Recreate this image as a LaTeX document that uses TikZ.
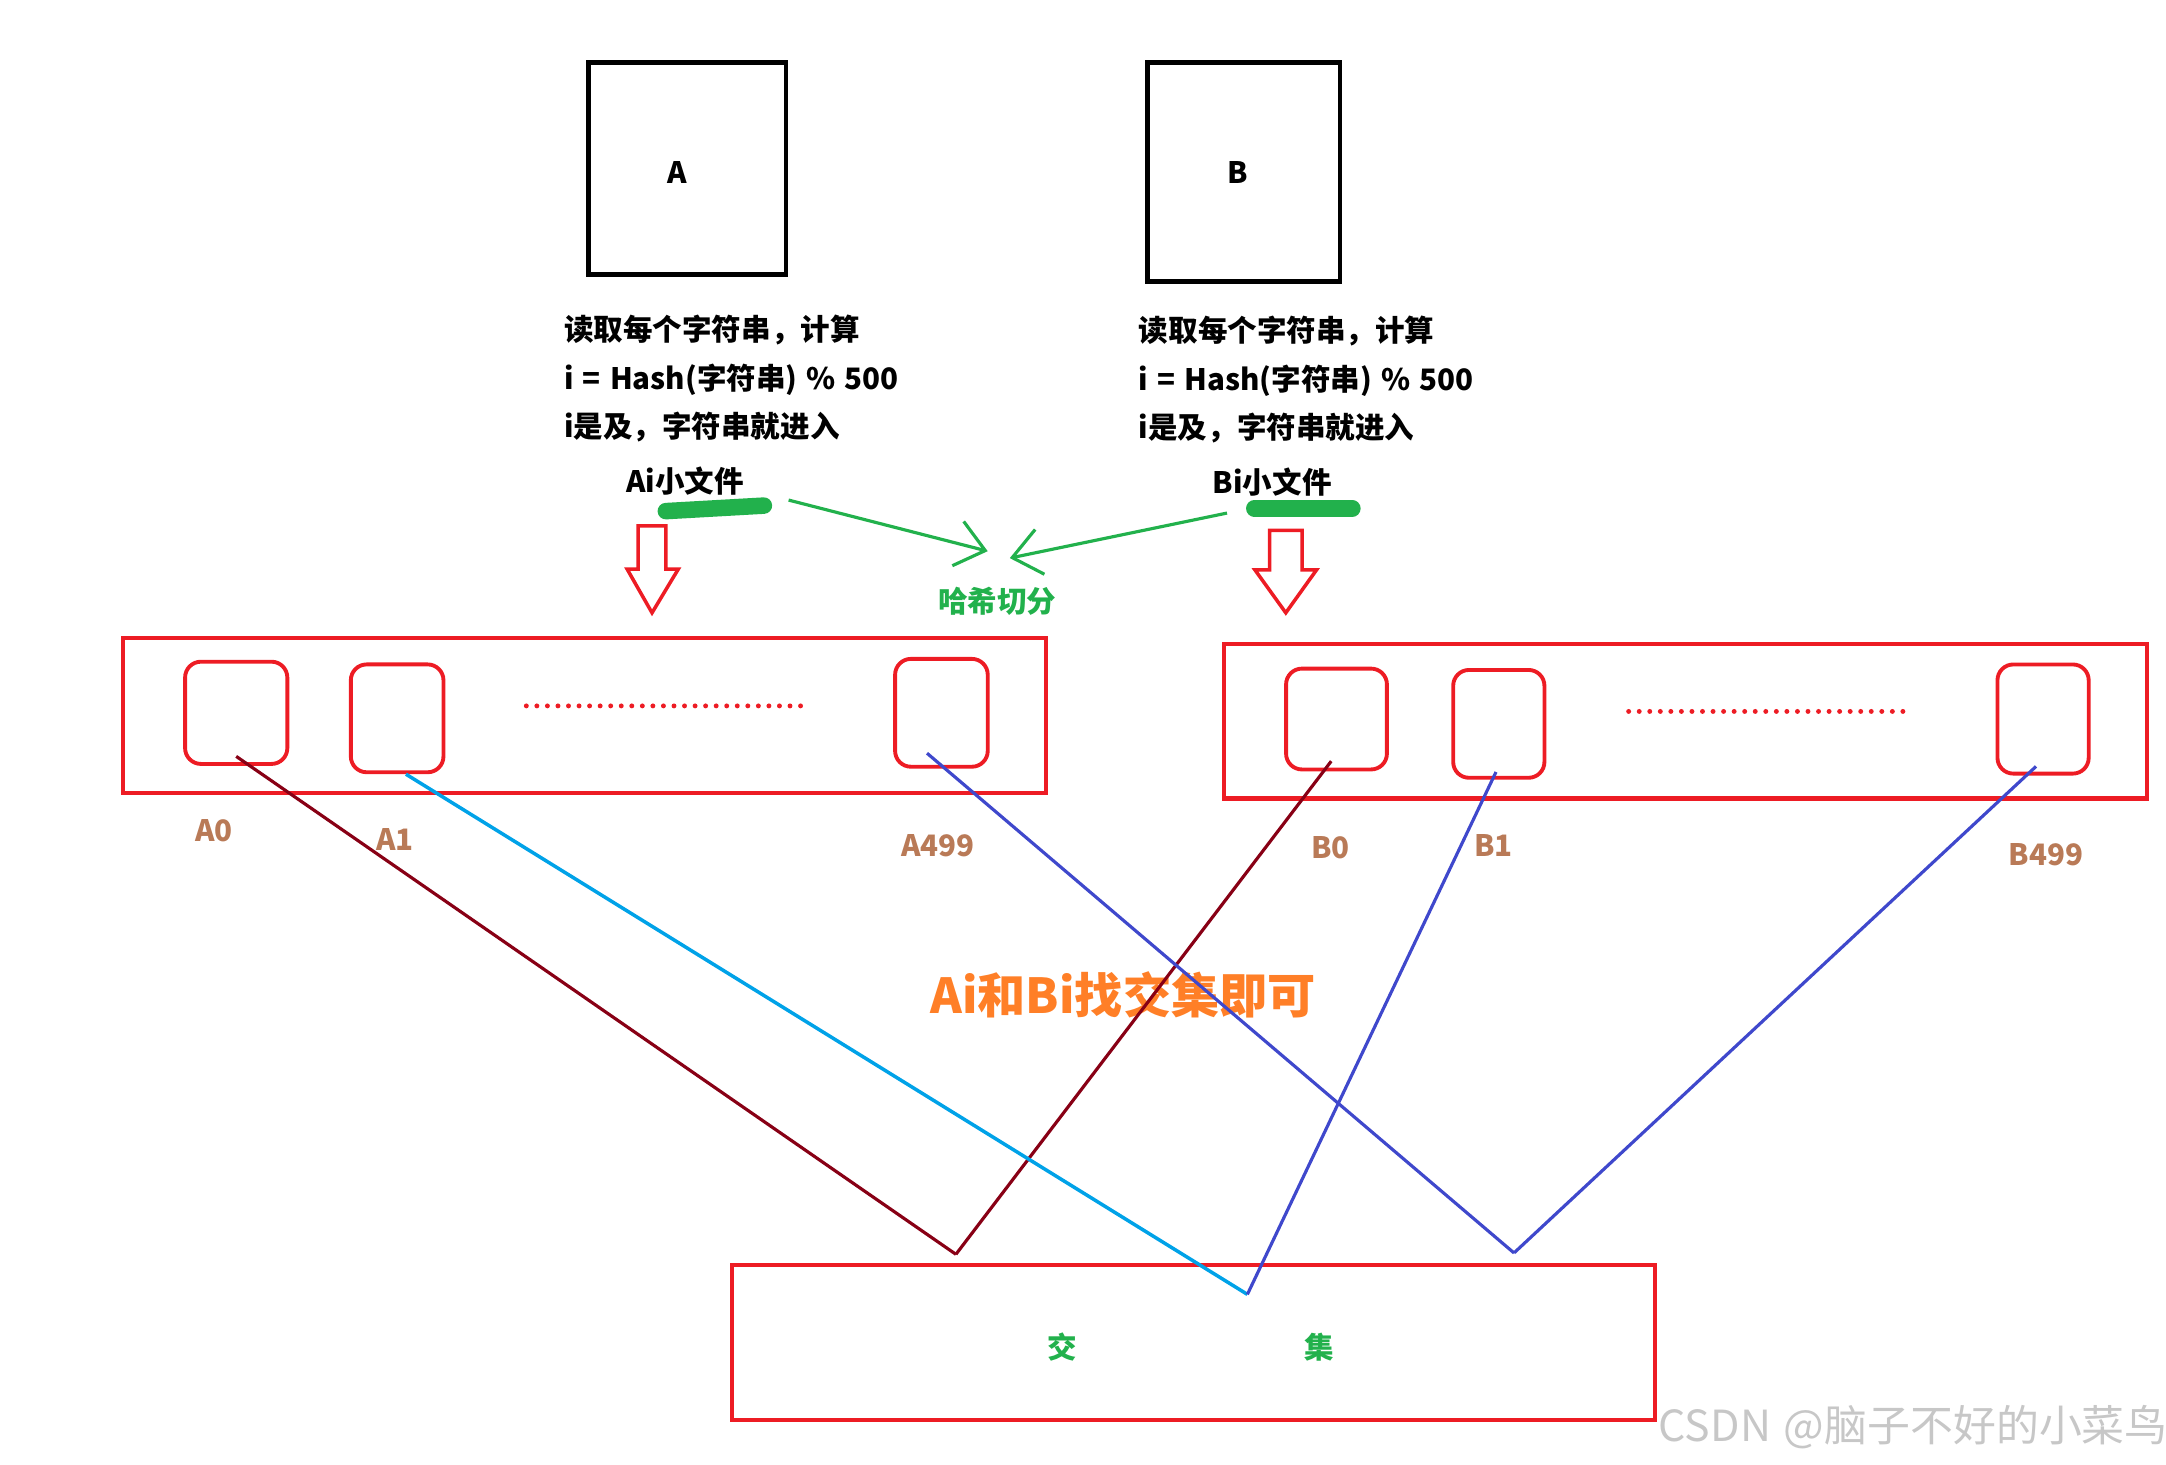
\documentclass[tikz,border=0pt]{standalone}
\usepackage{fontspec}
\setmainfont{Noto Sans CJK SC}[WordSpace=1.35]
\usetikzlibrary{arrows.meta}

\definecolor{paintred}{HTML}{ED1C24}
\definecolor{paintgreen}{HTML}{22B14C}
\definecolor{paintbrown}{HTML}{B97A57}
\definecolor{paintorange}{HTML}{FF7F27}
\definecolor{paintblue}{HTML}{3F48CC}
\definecolor{paintcyan}{HTML}{00A2E8}
\definecolor{paintmaroon}{HTML}{880015}

\begin{document}
\begin{tikzpicture}[x=0.013814cm, y=-0.013814cm, >={Straight Barb[length=8pt, width=13pt]},
    txt/.style={font=\fontsize{8.4}{13.8}\selectfont\bfseries, inner sep=0pt},
    idx/.style={font=\fontsize{8.4}{10}\selectfont\bfseries, text=paintbrown, inner sep=0pt},
    filebox/.style={draw, line width=1.4pt, inner sep=0pt},
    slot/.style={draw=paintred, line width=1.1pt, rounded corners=4.5pt, inner sep=0pt},
    bucket/.style={draw=paintred, line width=1.2pt},
    hollowdown/.style={draw=paintred, line width=1pt, line join=miter},
    dotline/.style={paintred, line width=1.4pt, line cap=round, dash pattern=on 0pt off 3pt},
    marker/.style={paintgreen, line width=4.7pt, line cap=round},
    hasharrow/.style={->, paintgreen, line width=0.9pt},
    link/.style={line width=0.9pt}]

    \useasboundingbox (0,0) rectangle (1568,1060);

    % --- big files A and B ---
    \node [filebox, minimum width=1.975cm, minimum height=2.127cm] (fileA) at (497.5,122) {};
    \node [filebox, minimum width=1.920cm, minimum height=2.196cm] (fileB) at (900.5,124.5) {};
    \node [txt] (nameA) at (490,125) {A};
    \node [txt] (nameB) at (896,125) {B};

    \node [txt, anchor=west, align=left] (ruleA) at (408,274) {读取每个字符串，计算\\i = Hash(字符串) \% 500\\i是及，字符串就进入};
    \node [txt, anchor=west, align=left] (ruleB) at (824,275) {读取每个字符串，计算\\i = Hash(字符串) \% 500\\i是及，字符串就进入};

    \node [txt] (aiFile) at (496,348) {Ai小文件};
    \node [txt] (biFile) at (921,349) {Bi小文件};
    \draw [marker] (482,370) -- (553,366);
    \draw [marker] (908,368) -- (979,368);

    % --- hash split arrows ---
    \node [txt, text=paintgreen] (hashSplit) at (722,435) {哈希切分};
    \coordinate (hashL) at (715,399);
    \coordinate (hashR) at (731,404);
    \draw [hasharrow] ([xshift=12.5pt, yshift=-5.5pt]aiFile.east) -- (hashL);
    \draw [hasharrow] ([xshift=4.2pt, yshift=-8.8pt]biFile.west) -- (hashR);

    \draw [hollowdown] (462,380.6) -- (482,380.6) -- (482,412) -- (491,412) -- (472,443.6) -- (454,412) -- (462,412) -- cycle;
    \draw [hollowdown] (919,384) -- (942.6,384) -- (942.6,412.6) -- (953,412.6) -- (930.8,443.6) -- (908.5,412.6) -- (919,412.6) -- cycle;

    % --- small files Ai ---
    \draw [bucket] (89,462) rectangle (757,574);
    \node [slot, minimum width=1.022cm, minimum height=1.022cm] (a0) at (171,516) {};
    \node [slot, minimum width=0.926cm, minimum height=1.078cm] (a1) at (287.5,520) {};
    \node [slot, minimum width=0.926cm, minimum height=1.078cm] (a499) at (681.5,516) {};
    \draw [dotline] (381,511) -- (583,511);
    \node [idx] (lblA0) at (155,601) {A0};
    \node [idx] (lblA1) at (286,608) {A1};
    \node [idx] (lblA499) at (679,612) {A499};

    % --- small files Bi ---
    \draw [bucket] (886,466) rectangle (1554,578);
    \node [slot, minimum width=1.008cm, minimum height=1.008cm] (b0) at (967.5,520.5) {};
    \node [slot, minimum width=0.912cm, minimum height=1.078cm] (b1) at (1085,524) {};
    \node [slot, minimum width=0.912cm, minimum height=1.091cm] (b499) at (1479,520.5) {};
    \draw [dotline] (1179,515) -- (1380,515);
    \node [idx] (lblB0) at (963,614) {B0};
    \node [idx] (lblB1) at (1081,612) {B1};
    \node [idx] (lblB499) at (1481,619) {B499};

    \node [font=\fontsize{13.7}{16}\selectfont\bfseries, text=paintorange, inner sep=0pt] (findCommon) at (813,720) {Ai和Bi找交集即可};

    % --- intersection ---
    \draw [bucket] (530,916) rectangle (1198,1028);
    \node [txt, text=paintgreen] (jiao) at (769,975) {交};
    \node [txt, text=paintgreen] (ji) at (955,975) {集};

    \coordinate (meet0) at (692,908);
    \coordinate (meet1) at (903,937);
    \coordinate (meet2) at (1096,907);
    \draw [link, paintmaroon] ([yshift=2.7pt]a0.south) -- (meet0);
    \draw [link, paintmaroon] ([xshift=-1.5pt, yshift=2.9pt]b0.south) -- (meet0);
    \draw [link, paintcyan, line width=1pt] ([xshift=2.5pt]a1.south) -- (meet1);
    \draw [link, paintblue] ([xshift=-0.8pt, yshift=2.2pt]b1.south) -- (meet1);
    \draw [link, paintblue] ([xshift=-4.1pt, yshift=4.4pt]a499.south) -- (meet2);
    \draw [link, paintblue] ([xshift=-2pt, yshift=2.6pt]b499.south) -- (meet2);

    \node [font=\fontsize{12.2}{14}\selectfont, text=black!22, inner sep=0pt] (mark) at (1385,1033) {CSDN @脑子不好的小菜鸟};

\end{tikzpicture}
\end{document}
